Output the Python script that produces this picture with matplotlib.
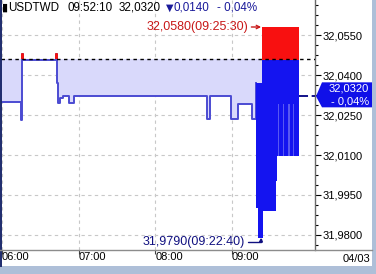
import matplotlib
matplotlib.use("Agg")
import matplotlib.pyplot as plt
from matplotlib.patches import Rectangle, Polygon
from matplotlib.lines import Line2D
from matplotlib.ticker import AutoMinorLocator

# ---------------- data ----------------
symbol = "USDTWD"
last_time = "09:52:10"
last_price = 32.0320
change = -0.0140
change_pct = -0.04
prev_close = 32.0460

line_times = ["06:00:00", "06:14:55", "06:16:00", "06:16:20", "06:42:30", "06:42:50",
              "06:43:30", "06:45:20", "06:47:40", "06:52:20", "06:56:20", "08:40:30",
              "08:42:50", "08:59:20", "09:04:40", "09:15:40", "09:18:46"]
line_values = [32.0300, 32.0230, 32.0480, 32.0455, 32.0480, 32.0370,
               32.0295, 32.0314, 32.0320, 32.0295, 32.0320, 32.0235,
               32.0320, 32.0235, 32.0290, 32.0235, 32.0370]

env_times = ["09:18:46", "09:20:43", "09:23:28", "09:24:15", "09:34:25", "09:35:12", "09:52:10"]
env_low = [31.9900, 31.9790, 31.9790, 31.9890, 32.0003, 32.0095, 32.0095]
env_high = [32.0370, 32.0370, 32.0580, 32.0580, 32.0580, 32.0580, 32.0580]

# thin, less dense streaks inside the busy period
streak_start = ["09:35:40", "09:39:40", "09:44:00", "09:47:50"]
streak_end = ["09:36:50", "09:40:20", "09:45:20", "09:48:40"]
streak_low = [32.0095, 32.0095, 32.0095, 32.0095]
streak_high = [32.0290, 32.0290, 32.0290, 32.0290]

max_time, max_value = "09:25:30", 32.0580
min_time, min_value = "09:22:40", 31.9790

ytick_values = [32.0550, 32.0400, 32.0250, 32.0100, 31.9950, 31.9800]
xtick_labels = ["06:00", "07:00", "08:00", "09:00"]
date_label = "04/03"


def hrs(t):
    p = [int(v) for v in t.split(":")]
    while len(p) < 3:
        p.append(0)
    return p[0] + p[1] / 60 + p[2] / 3600


def fmt(v):
    return f"{v:.4f}".replace(".", ",")


def fmt_pct(v):
    return f"- {abs(v):.2f}%".replace(".", ",") if v < 0 else f"+ {v:.2f}%".replace(".", ",")


W, H = 376, 274
FONT = ["Liberation Sans", "DejaVu Sans"]
plt.rcParams["font.family"] = FONT
FS = 8
TFS = 8.4
AFS = 9

fig = plt.figure(figsize=(W / 100, H / 100), dpi=100)
fig.patch.set_facecolor("white")

# frame bands
fig.add_artist(Rectangle((0, 0), 1, 8 / H, transform=fig.transFigure,
                         facecolor="#aebfd8", edgecolor="none", zorder=0))
fig.add_artist(Rectangle((372 / W, 0), 4 / W, 1, transform=fig.transFigure,
                         facecolor="#aebfd8", edgecolor="none", zorder=0))
fig.add_artist(Line2D([0.7 / W, 0.7 / W], [8 / H, 1], transform=fig.transFigure,
                      color="#1c2a6c", lw=1.4))
fig.add_artist(Line2D([0, 372 / W], [(H - 250) / H] * 2, transform=fig.transFigure,
                      color="#8c8c8c", lw=1.0))

ax = fig.add_axes([1 / W, (H - 250) / H, 314 / W, 250 / H])
ax.set_facecolor("none")
px_per_h = 76.67
x0 = 6 - 1 / px_per_h
x1 = 6 + 313 / px_per_h
ax.set_xlim(x0, x1)
ax.set_ylim(32.055 - 215 * 0.000375, 32.055 + 35 * 0.000375)

lt = [hrs(t) for t in line_times]
et = [hrs(t) for t in env_times]

# light fill between line and previous close
ax.fill_between(lt, line_values, prev_close, step="post", color="#d9d9fb", lw=0, zorder=1)
ax.fill_between(et, env_high, prev_close, step="post", color="#d9d9fb", lw=0, zorder=1)

ymin, ymax = ax.get_ylim()
clip_above = Rectangle((x0, prev_close), x1 - x0, ymax - prev_close, transform=ax.transData)

# price line
ax.plot(lt, line_values, drawstyle="steps-post", color="#4b4bd2", lw=1.4, zorder=3)
red_line, = ax.plot(lt, line_values, drawstyle="steps-post", color="#f01414", lw=1.4, zorder=4)
red_line.set_clip_path(clip_above)

# dense trading envelope
ax.fill_between(et, env_low, env_high, step="post", color="#1414f0", lw=0, zorder=3)
red_env = ax.fill_between(et, env_low, env_high, step="post", color="#f81010", lw=0, zorder=4)
red_env.set_clip_path(clip_above)
for s0, s1, lo, hi in zip(streak_start, streak_end, streak_low, streak_high):
    ax.fill_between([hrs(s0), hrs(s1)], [lo, lo], [hi, hi], color="#5858f2", lw=0, zorder=3.5)

# previous close reference line
ax.axhline(prev_close, color="black", lw=1.0, linestyle=(0, (2.5, 2.5)), zorder=5)
# current price line
ax.plot([hrs(last_time), x1], [last_price, last_price], color="#000080", lw=1.3,
        linestyle=(0, (5, 2, 2, 2)), zorder=5, clip_on=False)

# axes styling
for s in ["left", "top", "bottom"]:
    ax.spines[s].set_visible(False)
ax.spines["right"].set_color("#6a6a6a")
ax.spines["right"].set_linewidth(1.0)

ax.yaxis.tick_right()
ax.set_yticks(ytick_values, [fmt(v) for v in ytick_values])
ax.yaxis.set_minor_locator(AutoMinorLocator(4))
ax.tick_params(axis="y", which="major", direction="out", length=4, width=0.8,
               pad=1.2, labelsize=FS, colors="black")
ax.tick_params(axis="y", which="minor", direction="out", length=2.5, width=0.8, colors="black")

ax.set_xticks([hrs(t) for t in xtick_labels], xtick_labels)
for lbl in ax.get_xticklabels():
    lbl.set_horizontalalignment("left")
ax.tick_params(axis="x", direction="out", length=3, width=0.8, pad=-1.2,
               labelsize=FS, colors="#404040")
for lbl in ax.get_xticklabels():
    lbl.set_color("black")

ax.grid(True, color="#c8c8c8", lw=0.8, linestyle=(0, (3, 3)), zorder=0)
ax.set_axisbelow(True)

fig.text(370 / W, 1 - 258.5 / H, date_label, ha="right", va="center", fontsize=FS, color="black")

# annotations
ax.annotate(f"{fmt(max_value)}({max_time})", xy=(hrs(max_time), max_value),
            xytext=(-16, 0), textcoords="offset pixels", ha="right", va="center",
            fontsize=AFS, color="#c81818", zorder=6,
            arrowprops=dict(arrowstyle="->", color="#c81818", lw=1.0,
                            shrinkA=0, shrinkB=2.5, mutation_scale=6))
ax.annotate(f"{fmt(min_value)}({min_time})", xy=(hrs(min_time), min_value),
            xytext=(-16, -4), textcoords="offset pixels", ha="right", va="center",
            fontsize=AFS, color="#101080", zorder=6,
            arrowprops=dict(arrowstyle="-|>", color="#101080", lw=1.0,
                            connectionstyle="angle,angleA=0,angleB=90,rad=0",
                            shrinkA=0, shrinkB=0, mutation_scale=5))

# title
ty = 1 - 8 / H
fig.text(2 / W, ty, "▮", ha="left", va="center", fontsize=8, color="black",
         family=["DejaVu Sans"])
fig.text(8 / W, ty, symbol, ha="left", va="center", fontsize=TFS, color="black")
fig.text(67 / W, ty, last_time, ha="left", va="center", fontsize=TFS, color="black")
fig.text(119 / W, ty, fmt(last_price), ha="left", va="center", fontsize=TFS, color="black")
arrow = "▼" if change < 0 else "▲"
fig.text(166 / W, ty, arrow, ha="left", va="center", fontsize=7, color="#1a1a9a",
         family=["DejaVu Sans"])
fig.text(174 / W, ty, fmt(abs(change)), ha="left", va="center", fontsize=TFS,
         color="#1a1a9a")
fig.text(217 / W, ty, fmt_pct(change_pct), ha="left", va="center",
         fontsize=TFS, color="#1a1a9a")

# current price tag on the right
fig.canvas.draw()
yc_disp = ax.transData.transform((x1, last_price))[1]
yc = H - yc_disp  # pixel from top
pts = [(316, yc), (322, yc - 14), (372, yc - 14), (372, yc + 11), (322, yc + 11)]
fig.add_artist(Polygon([(x / W, 1 - y / H) for x, y in pts], closed=True,
                       transform=fig.transFigure, facecolor="#1010e8",
                       edgecolor="none", zorder=7))
fig.text(369 / W, 1 - (yc - 7.5) / H, fmt(last_price), ha="right", va="center",
         fontsize=FS, color="white", zorder=8)
fig.text(369 / W, 1 - (yc + 5) / H, fmt_pct(change_pct),
         ha="right", va="center", fontsize=FS, color="white", zorder=8)

fig.savefig("out.png", dpi=100)
